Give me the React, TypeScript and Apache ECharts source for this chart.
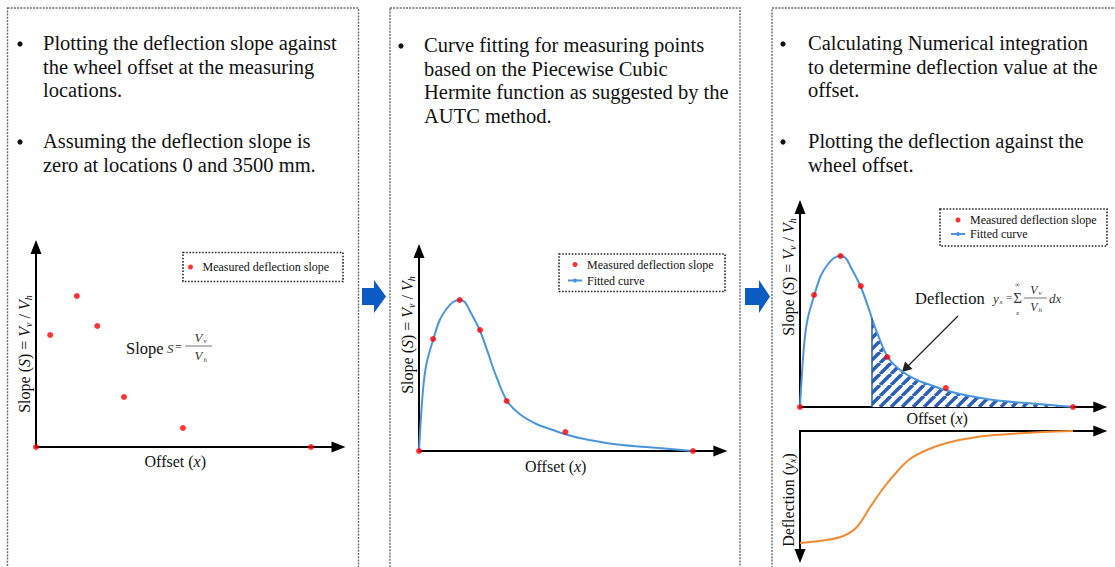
import React, { useEffect, useRef } from 'react';
import * as echarts from 'echarts';

// ---------- data ----------
// wheel offset (mm) of the measuring locations and the measured deflection slope (relative units)
const offsets = [0, 180, 520, 780, 1120, 1870, 3500];
const measuredSlope = [0, 112, 151, 121, 50, 19, 0];

// fitted (piecewise cubic Hermite) curve
const fittedOffsets = [0, 50, 95, 180, 265, 350, 435, 520, 585, 650, 775, 900, 920, 990, 1125, 1285, 1500, 1710, 1860, 2050, 2480, 2900, 3500];
const fittedSlope = [0, 60, 87, 111, 131, 142, 149, 151, 149, 140, 121, 94, 89, 74, 50, 37, 27, 21, 17, 13, 7, 4, 0];

// offset from which the hatched integration area starts
const integrationStart = 920;

// deflection curve (lower chart)
const deflOffsets = [0, 340, 555, 730, 900, 1070, 1240, 1410, 1625, 1880, 2265, 2690, 3120, 3500];
const deflection = [112, 109, 105, 96, 76, 57, 41, 28, 19, 12, 6, 3, 1, 0];

const panelText1a = ['Plotting the deflection slope against', 'the wheel offset at the measuring', 'locations.'];
const panelText1b = ['Assuming the deflection slope is', 'zero at locations 0 and 3500 mm.'];
const panelText2 = ['Curve fitting for measuring points', 'based on the Piecewise Cubic', 'Hermite function as suggested by the', 'AUTC method.'];
const panelText3a = ['Calculating Numerical integration', 'to determine deflection value at the', 'offset.'];
const panelText3b = ['Plotting the deflection against the', 'wheel offset.'];

const MEASURED = 'Measured deflection slope';
const FITTED = 'Fitted curve';

// ---------- styles ----------
const FONT = '"Liberation Serif", "Times New Roman", serif';
const RED = '#ff0000';
const BLUE = '#4a96dc';
const HATCH = '#2a5fb8';
const ORANGE = '#f28a30';
const X_MAX = 3850;
const Y_MAX = 200;

const measuredData = offsets.map((o, i) => [o, measuredSlope[i]]);
const fittedData = fittedOffsets.map((o, i) => [o, fittedSlope[i]]);
const hatchData = fittedData.filter((p) => p[0] >= integrationStart);
const deflData = deflOffsets.map((o, i) => [o, deflection[i]]);

function makeHatch(): HTMLCanvasElement {
  const s = 11;
  const c = document.createElement('canvas');
  c.width = s;
  c.height = s;
  const ctx = c.getContext('2d')!;
  ctx.fillStyle = '#ffffff';
  ctx.fillRect(0, 0, s, s);
  ctx.strokeStyle = HATCH;
  ctx.lineWidth = 3.6;
  for (const k of [-s, 0, s]) {
    ctx.beginPath();
    ctx.moveTo(k, s);
    ctx.lineTo(k + s, 0);
    ctx.stroke();
  }
  return c;
}

const rich = {
  t: { fontFamily: FONT, fontSize: 16, color: '#111' },
  i: { fontFamily: FONT, fontSize: 16, fontStyle: 'italic', color: '#111' },
  s: { fontFamily: FONT, fontSize: 10, fontStyle: 'italic', color: '#111', verticalAlign: 'top', padding: [8, 0, 0, 0] },
};

function axisLine(symbol: string[]) {
  return {
    show: true,
    onZero: true,
    symbol,
    symbolSize: [11, 14],
    lineStyle: { color: '#000', width: 2 },
  };
}

const X_NAME = '{t|Offset (}{i|x}{t|)}';
const Y_NAME = '{t|Slope (}{i|S}{t|) = }{i|V}{s|v}{t| / }{i|V}{s|h}';
const D_NAME = '{t|Deflection (}{i|y}{s|x}{t|)}';

function xAx(gridIndex: number, name: string, nameGap: number, padRight: number) {
  return {
    type: 'value', gridIndex, min: 0, max: X_MAX,
    axisLine: axisLine(['none', 'triangle']), axisTick: { show: false }, axisLabel: { show: false }, splitLine: { show: false },
    name, nameLocation: 'middle', nameGap,
    nameTextStyle: { rich, padding: [0, padRight, 0, 0] },
  };
}

function yAx(gridIndex: number, name: string, max: number, pad: number[], inverse = false) {
  return {
    type: 'value', gridIndex, min: 0, max, inverse,
    axisLine: axisLine(inverse ? ['triangle', 'none'] : ['none', 'triangle']),
    axisTick: { show: false }, axisLabel: { show: false }, splitLine: { show: false },
    name, nameLocation: 'middle', nameGap: 3, nameRotate: 90,
    nameTextStyle: { rich, padding: pad },
  };
}

function txt(x: number, y: number, text: string, size: number, o: any = {}) {
  const align = o.align || 'left';
  const va = o.va || 'middle';
  return {
    type: 'text', x, y, silent: true,
    style: {
      text, fontFamily: o.family || FONT, fontSize: size, fill: o.fill || '#111',
      fontStyle: o.italic ? 'italic' : 'normal',
      align, verticalAlign: va, textAlign: align, textVerticalAlign: va,
      lineHeight: o.lh,
    },
  };
}

function seg(x1: number, y1: number, x2: number, y2: number, stroke: string, w: number) {
  return { type: 'line', silent: true, shape: { x1, y1, x2, y2 }, style: { stroke, lineWidth: w } };
}

function dottedBox(x: number, y: number, w: number, h: number, stroke: string, lw: number, dash: number[]) {
  return { type: 'rect', silent: true, z: -1, shape: { x, y, width: w, height: h }, style: { fill: 'none', stroke, lineWidth: lw, lineDash: dash } };
}

function blockArrow(x0: number, x1: number, x2: number, yc: number) {
  return {
    type: 'polygon', silent: true,
    shape: { points: [[x0, yc - 8.5], [x1, yc - 8.5], [x1, yc - 16.5], [x2, yc], [x1, yc + 16.5], [x1, yc + 8.5], [x0, yc + 8.5]] },
    style: { fill: '#0a5bc4' },
  };
}

function paragraph(x: number, yFirst: number, lines: string[], bulletX: number) {
  const lh = 23.5;
  const els: any[] = [{ type: 'circle', silent: true, shape: { cx: bulletX + 3, cy: yFirst + 1, r: 2.6 }, style: { fill: '#111' } }];
  lines.forEach((l, i) => els.push(txt(x, yFirst + i * lh, l, 20.5)));
  return els;
}

function buildOption() {
  const hatch = makeHatch();
  const grey = '#333';
  const graphic: any[] = [
    dottedBox(7.5, 8, 351, 600, '#6a6a6a', 1.4, [2, 1.2]),
    dottedBox(390, 8, 350, 600, '#6a6a6a', 1.4, [2, 1.2]),
    dottedBox(772, 8, 400, 600, '#6a6a6a', 1.4, [2, 1.2]),
    blockArrow(362, 374, 386, 296.5),
    blockArrow(745, 759, 770, 296.5),
    ...paragraph(43, 43, panelText1a, 17),
    ...paragraph(43, 141, panelText1b, 17),
    ...paragraph(424, 45, panelText2, 398),
    ...paragraph(808, 43, panelText3a, 780),
    ...paragraph(808, 141, panelText3b, 780),
    // legend frames
    dottedBox(183, 252.5, 160, 29, '#222', 1.6, [1.6, 1.6]),
    dottedBox(559, 254, 166, 37.5, '#222', 1.6, [1.6, 1.6]),
    dottedBox(940, 209, 167, 37, '#222', 1.6, [1.6, 1.6]),
    // slope formula (panel 1)
    txt(126, 348, 'Slope', 16.5),
    txt(167, 348, 'S', 13, { italic: true, fill: grey }),
    txt(175, 347, '=', 12, { fill: grey }),
    seg(185, 346, 212, 346, '#555', 0.8),
    txt(198.5, 337, 'V', 13, { italic: true, fill: grey, align: 'center' }),
    txt(203.5, 341, 'v', 7, { italic: true, fill: grey }),
    txt(198.5, 355, 'V', 13, { italic: true, fill: grey, align: 'center' }),
    txt(203.5, 359.5, 'h', 7, { italic: true, fill: grey }),
    // deflection formula (panel 3)
    txt(915, 298, 'Deflection', 16.5),
    txt(993, 298, 'y', 13, { italic: true, fill: grey }),
    txt(999.5, 301.5, 'x', 7, { italic: true, fill: grey }),
    txt(1006, 297, '=', 11, { fill: grey }),
    txt(1017.5, 298, '\u03A3', 15, { fill: grey, align: 'center' }),
    txt(1017.5, 284.5, '\u221E', 7, { fill: grey, align: 'center' }),
    txt(1017.5, 312.5, 'x', 7, { italic: true, fill: grey, align: 'center' }),
    seg(1024, 298, 1047, 298, '#555', 0.8),
    txt(1034, 289.5, 'V', 12, { italic: true, fill: grey, align: 'center' }),
    txt(1038.5, 293, 'v', 7, { italic: true, fill: grey }),
    txt(1034, 306.5, 'V', 12, { italic: true, fill: grey, align: 'center' }),
    txt(1038.5, 310, 'h', 7, { italic: true, fill: grey }),
    txt(1049, 298, 'dx', 13, { italic: true, fill: grey }),
    // pointer arrow
    seg(958, 316, 907, 367, '#222', 1.3),
    { type: 'polygon', silent: true, shape: { points: [[902, 372], [905, 361.5], [912.5, 369]] }, style: { fill: '#222' } },
  ];

  const legendBase = {
    orient: 'vertical', padding: 0, selectedMode: false, itemWidth: 14, itemHeight: 5,
    textStyle: { fontFamily: FONT, fontSize: 12, color: '#111', lineHeight: 13 },
  };

  return {
    animation: false,
    backgroundColor: '#ffffff',
    graphic,
    grid: [
      { left: 36, top: 247, width: 302.5, height: 200, containLabel: false, outerBoundsMode: 'none' },
      { left: 419, top: 251, width: 301.4, height: 200, containLabel: false, outerBoundsMode: 'none' },
      { left: 800, top: 207, width: 300.3, height: 200, containLabel: false, outerBoundsMode: 'none' },
      { left: 800, top: 431, width: 300.3, height: 125, containLabel: false, outerBoundsMode: 'none' },
    ],
    xAxis: [
      xAx(0, X_NAME, 6, 24),
      xAx(1, X_NAME, 7, 28),
      xAx(2, X_NAME, 3, 26),
      { ...xAx(3, '', 0, 0), name: '' },
    ],
    yAxis: [
      yAx(0, Y_NAME, Y_MAX, [0, 14, 0, 0]),
      yAx(1, Y_NAME, Y_MAX, [0, 0, 0, 32]),
      yAx(2, Y_NAME, Y_MAX, [0, 0, 0, 60]),
      yAx(3, D_NAME, 125, [0, 13, 0, 0], true),
    ],
    legend: [
      { ...legendBase, left: 188, top: 260.5, itemGap: 3, data: [{ name: MEASURED, icon: 'circle' }] },
      { ...legendBase, left: 567, top: 258, itemGap: 3, data: [{ name: MEASURED, icon: 'circle' }, { name: FITTED }] },
      { ...legendBase, left: 950, top: 213.5, itemGap: 1, data: [{ name: MEASURED, icon: 'circle' }, { name: FITTED }] },
    ],
    series: [
      {
        type: 'line', name: FITTED, xAxisIndex: 1, yAxisIndex: 1, data: fittedData, smooth: 0.35,
        symbol: 'none', lineStyle: { color: BLUE, width: 2 }, itemStyle: { color: BLUE }, z: 2,
      },
      {
        type: 'line', name: 'Integrated area', xAxisIndex: 2, yAxisIndex: 2, data: hatchData, smooth: 0.35,
        symbol: 'none', lineStyle: { width: 0, color: BLUE }, z: 1,
        areaStyle: { color: { image: hatch, repeat: 'repeat' }, opacity: 1 },
        markLine: {
          silent: true, symbol: 'none', label: { show: false },
          lineStyle: { color: HATCH, width: 1.5, type: 'solid' },
          data: [[{ coord: [hatchData[0][0], 0] }, { coord: [hatchData[0][0], hatchData[0][1]] }]],
        },
      },
      {
        type: 'line', name: FITTED, xAxisIndex: 2, yAxisIndex: 2, data: fittedData, smooth: 0.35,
        symbol: 'none', lineStyle: { color: BLUE, width: 2 }, itemStyle: { color: BLUE }, z: 2,
      },
      {
        type: 'line', name: 'Deflection', xAxisIndex: 3, yAxisIndex: 3, data: deflData, smooth: 0.35,
        symbol: 'none', lineStyle: { color: ORANGE, width: 2 }, itemStyle: { color: ORANGE }, z: 2,
      },
      { type: 'scatter', name: MEASURED, xAxisIndex: 0, yAxisIndex: 0, data: measuredData, symbolSize: 6, itemStyle: { color: RED }, z: 4 },
      { type: 'scatter', name: MEASURED, xAxisIndex: 1, yAxisIndex: 1, data: measuredData, symbolSize: 6, itemStyle: { color: RED }, z: 4 },
      { type: 'scatter', name: MEASURED, xAxisIndex: 2, yAxisIndex: 2, data: measuredData, symbolSize: 6, itemStyle: { color: RED }, z: 4 },
    ],
  };
}

export default function App() {
  const ref = useRef<HTMLDivElement>(null);
  useEffect(() => {
    const chart = echarts.init(ref.current!, null, { renderer: 'svg' });
    chart.setOption(buildOption() as any);
    return () => chart.dispose();
  }, []);
  return (
    <div
      ref={ref}
      style={{ position: 'fixed', left: 0, top: 0, width: 1115, height: 567, background: '#ffffff' }}
    />
  );
}
